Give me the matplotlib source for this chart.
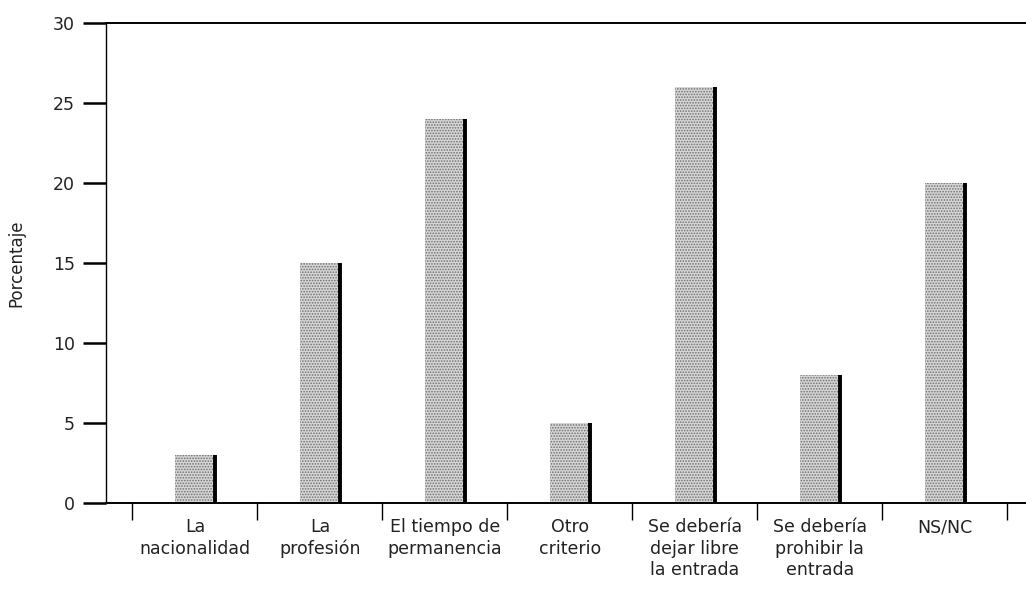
import numpy as np
import matplotlib
matplotlib.use('Agg')
from matplotlib import pyplot as plt

plt.rcParams['font.family'] = ['DejaVu Sans']
plt.rcParams['hatch.linewidth'] = 0.8

# criterio para regular la entrada de inmigrantes
categorias = ['La\nnacionalidad', 'La\nprofesión', 'El tiempo de\npermanencia',
              'Otro\ncriterio', 'Se debería\ndejar libre\nla entrada',
              'Se debería\nprohibir la\nentrada', 'NS/NC']
porcentajes = [3, 15, 24, 5, 26, 8, 20]
yticks = [0, 5, 10, 15, 20, 25, 30]

fig = plt.figure(figsize=(10.26, 5.90), dpi=100)
ax = fig.add_axes([0.1033, 0.1475, 0.8967, 0.8136])

x = np.arange(len(categorias))
width = 0.32
ax.bar(x, porcentajes, width=width, color='#d6d6d6', edgecolor='#707070',
       hatch='......', linewidth=0, zorder=2)
# borde derecho grueso de cada barra
ax.vlines(x + width / 2, 0, porcentajes, colors='black', linewidth=2.8, zorder=3)

ax.set_xlim(-0.712, 6.65)
ax.set_ylim(0, 30)
ax.set_yticks(yticks)
ax.set_xticks(x)
ax.set_xticklabels(categorias, fontsize=12.5, linespacing=1.25, color='#222222')
ax.set_xticks(np.arange(-0.5, 7.0, 1.0), minor=True)
ax.tick_params(axis='x', which='major', length=0, pad=11)
ax.tick_params(axis='x', which='minor', length=12, width=1.0, direction='out')
ax.tick_params(axis='y', length=16.5, width=1.8, direction='out', pad=6,
               labelsize=12.5, labelcolor='#222222')

ax.spines['right'].set_visible(False)
ax.spines['left'].set_linewidth(1.0)
ax.spines['bottom'].set_linewidth(1.4)
ax.spines['top'].set_linewidth(1.4)

ax.set_ylabel('Porcentaje', fontsize=12, color='#222222')
ax.yaxis.set_label_coords(-0.088, 0.5)

fig.savefig('out.png', dpi=100)
